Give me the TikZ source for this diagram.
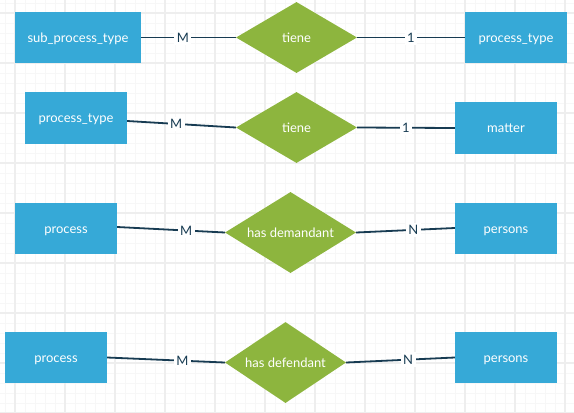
\documentclass[tikz,border=0pt]{standalone}
\usepackage{fontspec}
\setmainfont{Lato}
\usetikzlibrary{shapes.geometric,calc}
\definecolor{entityblue}{HTML}{36A9D7}
\definecolor{relgreen}{HTML}{8DB53E}
\definecolor{linknavy}{HTML}{173B52}
\definecolor{gridminor}{HTML}{F7F7F7}
\definecolor{gridmajor}{HTML}{EEEEEE}
\tikzset{
  entity/.style={rectangle, fill=entityblue, text=white, inner sep=0pt,
    minimum width=102pt, minimum height=51pt, text height=9pt, text depth=0pt,
    font=\fontsize{13}{14}\selectfont},
  relation/.style={diamond, fill=relgreen, text=white, inner sep=0pt, aspect=1.7,
    text height=9pt, text depth=0pt, font=\fontsize{13}{14}\selectfont},
  link/.style={draw=linknavy, line width=1.8pt},
  card/.style={fill=white, text=linknavy, inner sep=2.5pt, font=\fontsize{13}{14}\selectfont}
}
\begin{document}
\begin{tikzpicture}[x=1pt,y=-1pt]
  \useasboundingbox (0,0) rectangle (574,413);
  \fill[white] (0,0) rectangle (574,413);
  % background grid: fine lines every 10, heavier every 50
  \foreach \gx in {5,15,...,575} \draw[gridminor, line width=0.8pt] (\gx,0) -- (\gx,413);
  \foreach \gy in {3,13,...,413} \draw[gridminor, line width=0.8pt] (0,\gy) -- (574,\gy);
  \foreach \gx in {15,65,...,565} \draw[gridmajor, line width=1.2pt] (\gx,0) -- (\gx,413);
  \foreach \gy in {13,63,...,413} \draw[gridmajor, line width=1.2pt] (0,\gy) -- (574,\gy);

  % entities
  \node[entity, minimum width=126pt] (e1) at (78,37.5) {sub\_process\_type};
  \node[entity] (e2) at (516,37.5) {process\_type};
  \node[entity, minimum height=52pt] (e3) at (76,118) {process\_type};
  \node[entity, minimum height=52pt] (e4) at (506,128) {matter};
  \node[entity] (e5) at (66,228.5) {process};
  \node[entity] (e6) at (506,228.5) {persons};
  \node[entity] (e7) at (56,357.5) {process};
  \node[entity] (e8) at (506,357.5) {persons};

  % relationships
  \node[relation, minimum width=121pt, minimum height=71pt] (d1) at (296.5,37.5) {tiene};
  \node[relation, minimum width=121pt, minimum height=71pt] (d2) at (296.5,127.5) {tiene};
  \node[relation, minimum width=131pt, minimum height=81pt] (d3) at (290.5,232.5) {has demandant};
  \node[relation, minimum width=121pt, minimum height=81pt] (d4) at (285.5,362.5) {has defendant};

  % connectors with cardinalities
  \draw[link] (e1.east) -- node[card, pos=0.44] {M} (d1.west);
  \draw[link] (d1.east) -- node[card, pos=0.5] {1} (e2.west);
  \draw[link] ($(e3.east)+(0,3)$) -- node[card, pos=0.45] {M} (d2.west);
  \draw[link] (d2.east) -- node[card, pos=0.5] {1} (e4.west);
  \draw[link] ($(e5.east)+(0,-1.5)$) -- node[card, pos=0.64] {M} (d3.west);
  \draw[link] (d3.east) -- node[card, pos=0.58] {N} ($(e6.west)+(0,-0.5)$);
  \draw[link] (e7.east) -- node[card, pos=0.64] {M} (d4.west);
  \draw[link] (d4.east) -- node[card, pos=0.57] {N} (e8.west);
\end{tikzpicture}
\end{document}
